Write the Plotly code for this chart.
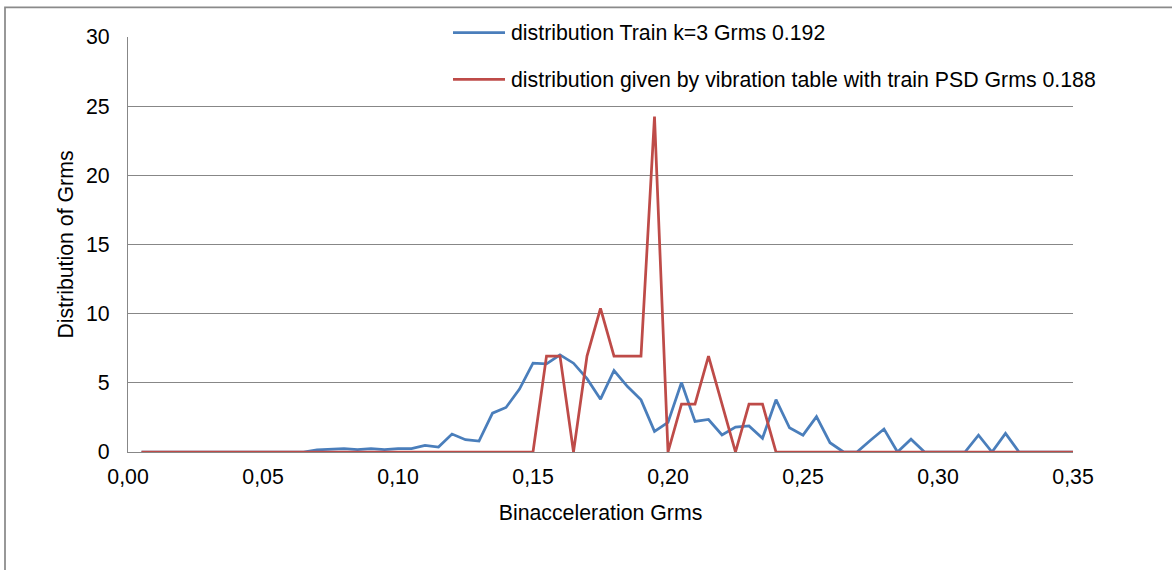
import plotly.graph_objects as go

# Bin acceleration (Grms) - x categories
binacc = [0.005, 0.010, 0.015, 0.020, 0.025, 0.030, 0.035, 0.040, 0.045, 0.050,
          0.055, 0.060, 0.065, 0.070, 0.075, 0.080, 0.085, 0.090, 0.095, 0.100,
          0.105, 0.110, 0.115, 0.120, 0.125, 0.130, 0.135, 0.140, 0.145, 0.150,
          0.155, 0.160, 0.165, 0.170, 0.175, 0.180, 0.185, 0.190, 0.195, 0.200,
          0.205, 0.210, 0.215, 0.220, 0.225, 0.230, 0.235, 0.240, 0.245, 0.250,
          0.255, 0.260, 0.265, 0.270, 0.275, 0.280, 0.285, 0.290, 0.295, 0.300,
          0.305, 0.310, 0.315, 0.320, 0.325, 0.330, 0.335, 0.340, 0.345, 0.350]

train_name = "distribution Train k=3 Grms 0.192"
train_vals = [0, 0, 0, 0, 0, 0, 0, 0, 0, 0,
              0, 0, 0, 0.15, 0.19, 0.24, 0.17, 0.24, 0.17, 0.24,
              0.24, 0.48, 0.36, 1.30, 0.89, 0.79, 2.81, 3.22, 4.55, 6.42,
              6.37, 7.02, 6.42, 5.30, 3.82, 5.89, 4.73, 3.77, 1.49, 2.14,
              5.02, 2.21, 2.35, 1.23, 1.80, 1.88, 0.99, 3.78, 1.75, 1.22,
              2.56, 0.67, 0, 0, 0.85, 1.66, 0, 0.93, 0, 0,
              0, 0, 1.22, 0, 1.34, 0, 0, 0, 0, 0]

table_name = "distribution given by vibration table with train PSD Grms 0.188"
table_vals = [0, 0, 0, 0, 0, 0, 0, 0, 0, 0,
              0, 0, 0, 0, 0, 0, 0, 0, 0, 0,
              0, 0, 0, 0, 0, 0, 0, 0, 0, 0,
              6.93, 6.93, 0, 6.93, 10.39, 6.93, 6.93, 6.93, 24.24, 0,
              3.46, 3.46, 6.93, 3.46, 0, 3.46, 3.46, 0, 0, 0,
              0, 0, 0, 0, 0, 0, 0, 0, 0, 0,
              0, 0, 0, 0, 0, 0, 0, 0, 0, 0]

x_ticks = [0.00, 0.05, 0.10, 0.15, 0.20, 0.25, 0.30, 0.35]
y_ticks = [0, 5, 10, 15, 20, 25, 30]

BLUE = "#4A7EBB"
RED = "#BE4B48"
GRID = "#878787"
FONT = "Liberation Sans, Arial, sans-serif"
FS = 21.3

fig = go.Figure()
fig.add_trace(go.Scatter(x=binacc, y=train_vals, mode="lines", name=train_name,
                         line=dict(color=BLUE, width=2.75), showlegend=False))
fig.add_trace(go.Scatter(x=binacc, y=table_vals, mode="lines", name=table_name,
                         line=dict(color=RED, width=2.75), showlegend=False))

W, H = 1172, 570
L, R, T, B = 128, 99, 37, 118
pw, ph = W - L - R, H - T - B


def px(xp):
    return (xp - L) / pw


def py(yp):
    return (H - B - yp) / ph


shapes = [
    # outer chart border (left and top visible)
    dict(type="rect", xref="paper", yref="paper", x0=px(5), x1=px(1400), y0=py(800), y1=py(7.3),
         line=dict(color="#8A8A8A", width=1.75), fillcolor="rgba(0,0,0,0)", layer="above"),
    # legend background
    dict(type="rect", xref="paper", yref="paper", x0=px(374), x1=px(1110), y0=py(98), y1=py(14),
         line=dict(width=0), fillcolor="white", layer="above"),
    # legend keys
    dict(type="line", xref="paper", yref="paper", x0=px(453), x1=px(505), y0=py(32.5), y1=py(32.5),
         line=dict(color=BLUE, width=2.75), layer="above"),
    dict(type="line", xref="paper", yref="paper", x0=px(453), x1=px(505), y0=py(79.3), y1=py(79.3),
         line=dict(color=RED, width=2.75), layer="above"),
]

annotations = [
    dict(text=train_name, xref="paper", yref="paper", x=px(509), y=py(33), xanchor="left",
         yanchor="middle", showarrow=False, font=dict(family=FONT, size=FS, color="black")),
    dict(text=table_name, xref="paper", yref="paper", x=px(509), y=py(80), xanchor="left",
         yanchor="middle", showarrow=False, font=dict(family=FONT, size=FS, color="black")),
]

fig.update_layout(
    width=W, height=H,
    margin=dict(l=L, r=R, t=T, b=B, autoexpand=False),
    paper_bgcolor="white", plot_bgcolor="white",
    separators=", ",
    font=dict(family=FONT, size=FS, color="black"),
    shapes=shapes, annotations=annotations,
    xaxis=dict(range=[0, 0.35], tickvals=x_ticks, tickformat=".2f", showgrid=False,
               zeroline=False, showline=True, linecolor=GRID, linewidth=1.25,
               ticks="", ticklabelstandoff=5,
               title=dict(text="Binacceleration Grms", standoff=17,
                          font=dict(family=FONT, size=FS, color="black"))),
    yaxis=dict(range=[0, 30], tickvals=y_ticks, showgrid=True, gridcolor=GRID, gridwidth=1.25,
               zeroline=False, showline=True, linecolor=GRID, linewidth=1.25,
               ticks="", ticklabelstandoff=13,
               title=dict(text="Distribution of Grms", standoff=6,
                          font=dict(family=FONT, size=FS, color="black"))),
)

fig.write_html("out.html")
